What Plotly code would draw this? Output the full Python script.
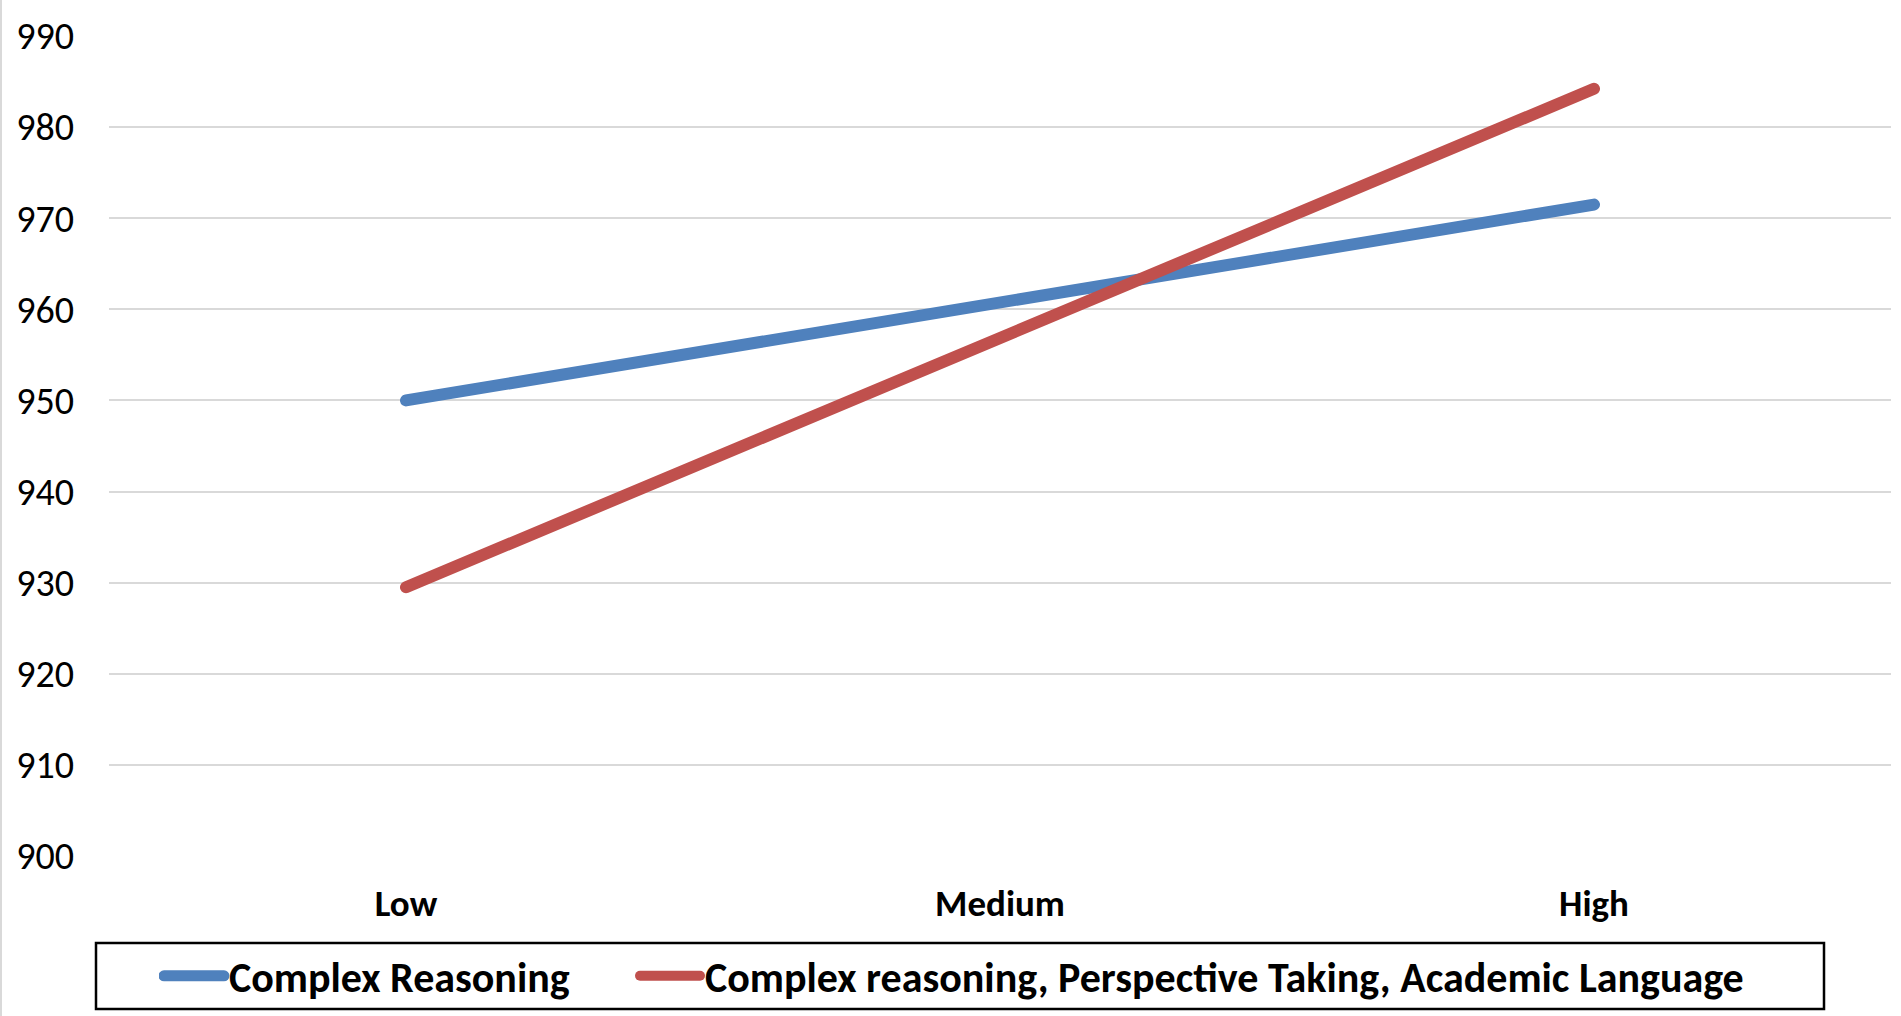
import plotly.graph_objects as go

# Score by level for each instructional focus
levels = ["Low", "Medium", "High"]
complex_reasoning = [950.0, 960.8, 971.5]
combined_focus = [929.5, 957.0, 984.2]

series_names = [
    "Complex Reasoning",
    "Complex reasoning, Perspective Taking, Academic Language",
]
series_colors = ["#4F81BD", "#C0504D"]

y_ticks = [900, 910, 920, 930, 940, 950, 960, 970, 980, 990]

FONT = "Carlito, Lato, sans-serif"

W, H = 1901, 1016
ml, mr, mt, mb = 109, 10, 36, 160
pw = W - ml - mr
ph = H - mt - mb


def px_x(x):
    return (x - ml) / pw


def px_y(y):
    return (H - mb - y) / ph


# each series gets its own legend so the two entries can be spaced freely
legend_ids = ["legend", "legend2"]
legend_left = [159, 635]

fig = go.Figure()
for name, values, color, lid in zip(series_names, [complex_reasoning, combined_focus],
                                    series_colors, legend_ids):
    fig.add_trace(go.Scatter(
        x=levels, y=values, name=name, mode="lines", showlegend=True,
        line=dict(color=color, width=12), legend=lid,
    ))

legend_style = dict(
    orientation="h", xref="container", yref="container",
    xanchor="left", y=(H - 976) / H, yanchor="middle",
    borderwidth=0, bgcolor="rgba(0,0,0,0)",
    font=dict(family=FONT, size=42, color="black", weight="bold"),
    itemwidth=60,
)

fig.update_layout(
    width=W, height=H, showlegend=True,
    margin=dict(l=ml, r=mr, t=mt, b=mb, autoexpand=False),
    paper_bgcolor="white", plot_bgcolor="white",
    font=dict(family=FONT, color="black"),
    xaxis=dict(
        type="category", range=[-0.5, 2.5], showgrid=False, zeroline=False,
        showline=False, ticks="", ticklabelstandoff=22,
        tickfont=dict(family=FONT, size=37, color="black", weight="bold"),
    ),
    yaxis=dict(
        range=[900, 990], tickvals=y_ticks, showgrid=True, gridcolor="#D9D9D9",
        gridwidth=2, zeroline=False, showline=False, ticks="",
        ticklabelstandoff=34,
        tickfont=dict(family=FONT, size=38, color="black"),
    ),
    legend=dict(x=legend_left[0] / W, **legend_style),
    legend2=dict(x=legend_left[1] / W, **legend_style),
    shapes=[
        # chart-area edge on the left
        dict(type="line", xref="paper", yref="paper",
             x0=px_x(1), x1=px_x(1), y0=px_y(H), y1=px_y(0),
             line=dict(color="#D9D9D9", width=2)),
        # legend frame
        dict(type="rect", xref="paper", yref="paper",
             x0=px_x(96), x1=px_x(1824), y0=px_y(1009), y1=px_y(943),
             line=dict(color="black", width=2.5), layer="below"),
    ],
)

# rounded line ends for the series and legend swatches
post = """
document.querySelectorAll('.js-line').forEach(function(p){
  p.style.strokeLinecap = 'round';
});
document.querySelectorAll('.legend .js-line').forEach(function(p){
  p.style.strokeWidth = '11px';
});
"""
fig.write_html("out.html", post_script=post)
